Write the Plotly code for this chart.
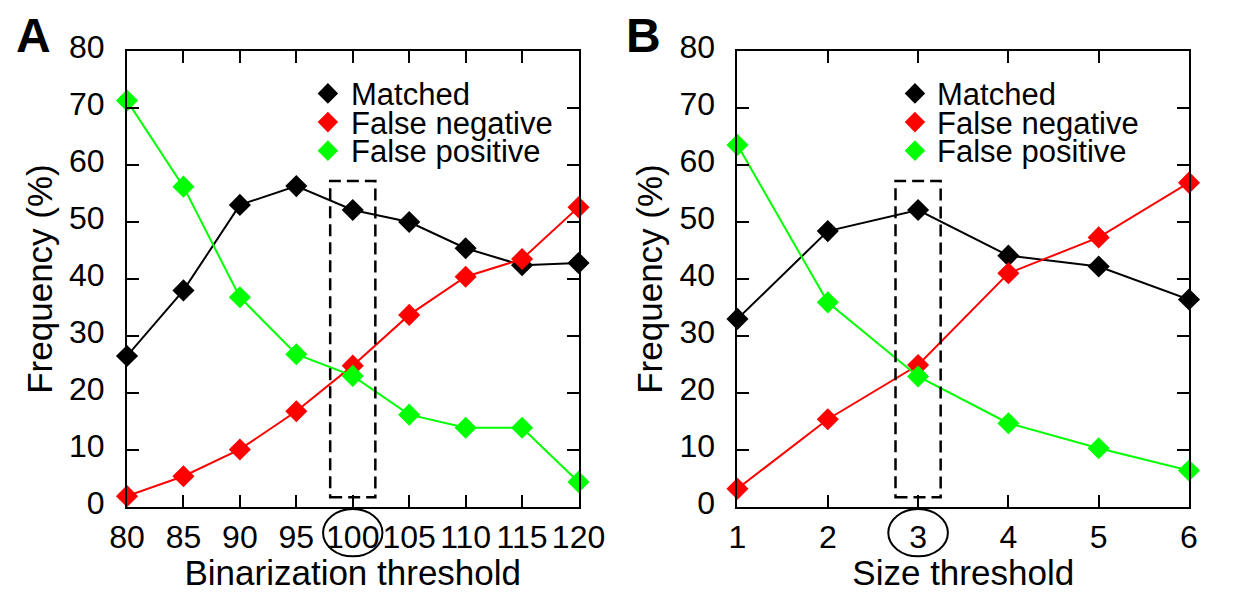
import plotly.graph_objects as go

# ---------------- data ----------------
bin_x = [80, 85, 90, 95, 100, 105, 110, 115, 120]
bin_matched = [26.5, 38.0, 53.0, 56.3, 52.1, 50.0, 45.4, 42.4, 42.8]
bin_false_neg = [1.9, 5.4, 10.1, 16.8, 24.8, 33.7, 40.4, 43.5, 52.6]
bin_false_pos = [71.3, 56.2, 36.8, 26.8, 23.0, 16.2, 13.9, 13.9, 4.4]

size_x = [1, 2, 3, 4, 5, 6]
size_matched = [33.0, 48.4, 52.1, 44.1, 42.2, 36.4]
size_false_neg = [3.2, 15.4, 24.9, 41.0, 47.3, 56.9]
size_false_pos = [63.5, 35.9, 22.9, 14.7, 10.3, 6.4]

series_names = ["Matched", "False negative", "False positive"]
series_colors = ["#000000", "#ff0000", "#00ff00"]

y_ticks = [0, 10, 20, 30, 40, 50, 60, 70, 80]

FONT = "Liberation Sans, Arial, Helvetica, sans-serif"
OFF = 8  # page body margin
W, H = 1233 - 2 * OFF, 600 - 2 * OFF
# plot-area corners in screen pixels
SX0, SX1, SY0, SY1 = 127, 1216, 51, 513
L, T = SX0 - OFF, SY0 - OFF
R = W - (SX1 - OFF)
B = H - (SY1 - OFF)
PW = SX1 - SX0
PH = SY1 - SY0


def px_x(px):
    return (px - SX0) / PW


def px_y(py):
    return (SY1 - py) / PH


fig = go.Figure()

panels = [
    ("x", "y", bin_x, [bin_matched, bin_false_neg, bin_false_pos]),
    ("x2", "y2", size_x, [size_matched, size_false_neg, size_false_pos]),
]
for xa, ya, xs, ys_list in panels:
    for name, color, ys in zip(series_names, series_colors, ys_list):
        fig.add_trace(go.Scatter(
            x=xs, y=ys, name=name, mode="lines+markers",
            xaxis=xa, yaxis=ya, showlegend=False, cliponaxis=False,
            line=dict(color=color, width=2),
            marker=dict(symbol="diamond", size=17, color=color),
        ))

axis_common = dict(
    showline=True, linecolor="black", linewidth=2, mirror="ticks",
    ticks="inside", ticklen=12, tickwidth=2, tickcolor="black",
    showgrid=False, zeroline=False,
    tickfont=dict(family=FONT, size=32, color="black"),
)
x_common = dict(ticklabelstandoff=1, **axis_common)
y_common = dict(ticklabelstandoff=14, ticklabelshift=-4, **axis_common)
title_font = dict(family=FONT, size=35, color="black")

left_dom = [0, 463 / PW]
right_dom = [626 / PW, 1]

fig.update_layout(
    width=W, height=H, autosize=False,
    margin=dict(l=L, r=R, t=T, b=B, pad=0),
    paper_bgcolor="white", plot_bgcolor="white",
    font=dict(family=FONT, size=30, color="black"),
    xaxis=dict(domain=left_dom, range=[80, 120], tickvals=bin_x,
               title=dict(text="Binarization threshold", standoff=3, font=title_font),
               anchor="y", **x_common),
    yaxis=dict(domain=[0, 1], range=[0, 80], tickvals=y_ticks,
               title=dict(text="Frequency (%)", standoff=6, font=title_font),
               anchor="x", **y_common),
    xaxis2=dict(domain=right_dom, range=[1, 6], tickvals=size_x,
                title=dict(text="Size threshold", standoff=3, font=title_font),
                anchor="y2", **x_common),
    yaxis2=dict(domain=[0, 1], range=[0, 80], tickvals=y_ticks,
                title=dict(text="Frequency (%)", standoff=6, font=title_font),
                anchor="x2", **y_common),
    showlegend=False,
)

shapes = []
# dashed selection boxes
shapes.append(dict(type="rect", xref="x", yref="y", x0=98, x1=102, y0=1.7, y1=57.2,
                   line=dict(color="black", width=2.5, dash="12px,6px")))
shapes.append(dict(type="rect", xref="x2", yref="y2", x0=2.75, x1=3.25, y0=1.7, y1=57.2,
                   line=dict(color="black", width=2.5, dash="12px,6px")))
# circles around selected tick labels
shapes.append(dict(type="circle", xref="x", yref="paper", x0=100 - 2.63, x1=100 + 2.63,
                   y0=px_y(563), y1=px_y(515), line=dict(color="black", width=2)))
shapes.append(dict(type="circle", xref="x2", yref="paper", x0=3 - 0.33, x1=3 + 0.33,
                   y0=px_y(563), y1=px_y(515), line=dict(color="black", width=2)))

annotations = []
# manual legends
legend_specs = [(333, 356), (935, 957)]
row_y = [94, 123, 152]
hw = 10.5
for mx, tx in legend_specs:
    for name, color, ry in zip(series_names, series_colors, row_y):
        cx, cy = px_x(mx), px_y(ry)
        dx, dy = hw / PW, hw / PH
        path = (f"M {cx},{cy + dy} L {cx + dx},{cy} L {cx},{cy - dy} "
                f"L {cx - dx},{cy} Z")
        shapes.append(dict(type="path", xref="paper", yref="paper", path=path,
                           fillcolor=color, line=dict(color=color, width=0)))
        annotations.append(dict(xref="paper", yref="paper", x=px_x(tx), y=px_y(ry + 1),
                                text=name, showarrow=False, xanchor="left",
                                yanchor="middle", borderpad=0,
                                font=dict(family=FONT, size=31, color="black")))

# panel letters
annotations.append(dict(xref="paper", yref="paper", x=px_x(31), y=px_y(35), text="<b>A</b>",
                        showarrow=False, xanchor="center", yanchor="middle", borderpad=0,
                        font=dict(family=FONT, size=48, color="black")))
annotations.append(dict(xref="paper", yref="paper", x=px_x(657), y=px_y(35), text="<b>B</b>",
                        showarrow=False, xanchor="center", yanchor="middle", borderpad=0,
                        font=dict(family=FONT, size=48, color="black")))

fig.update_layout(shapes=shapes, annotations=annotations)

fig.write_html("out.html")
